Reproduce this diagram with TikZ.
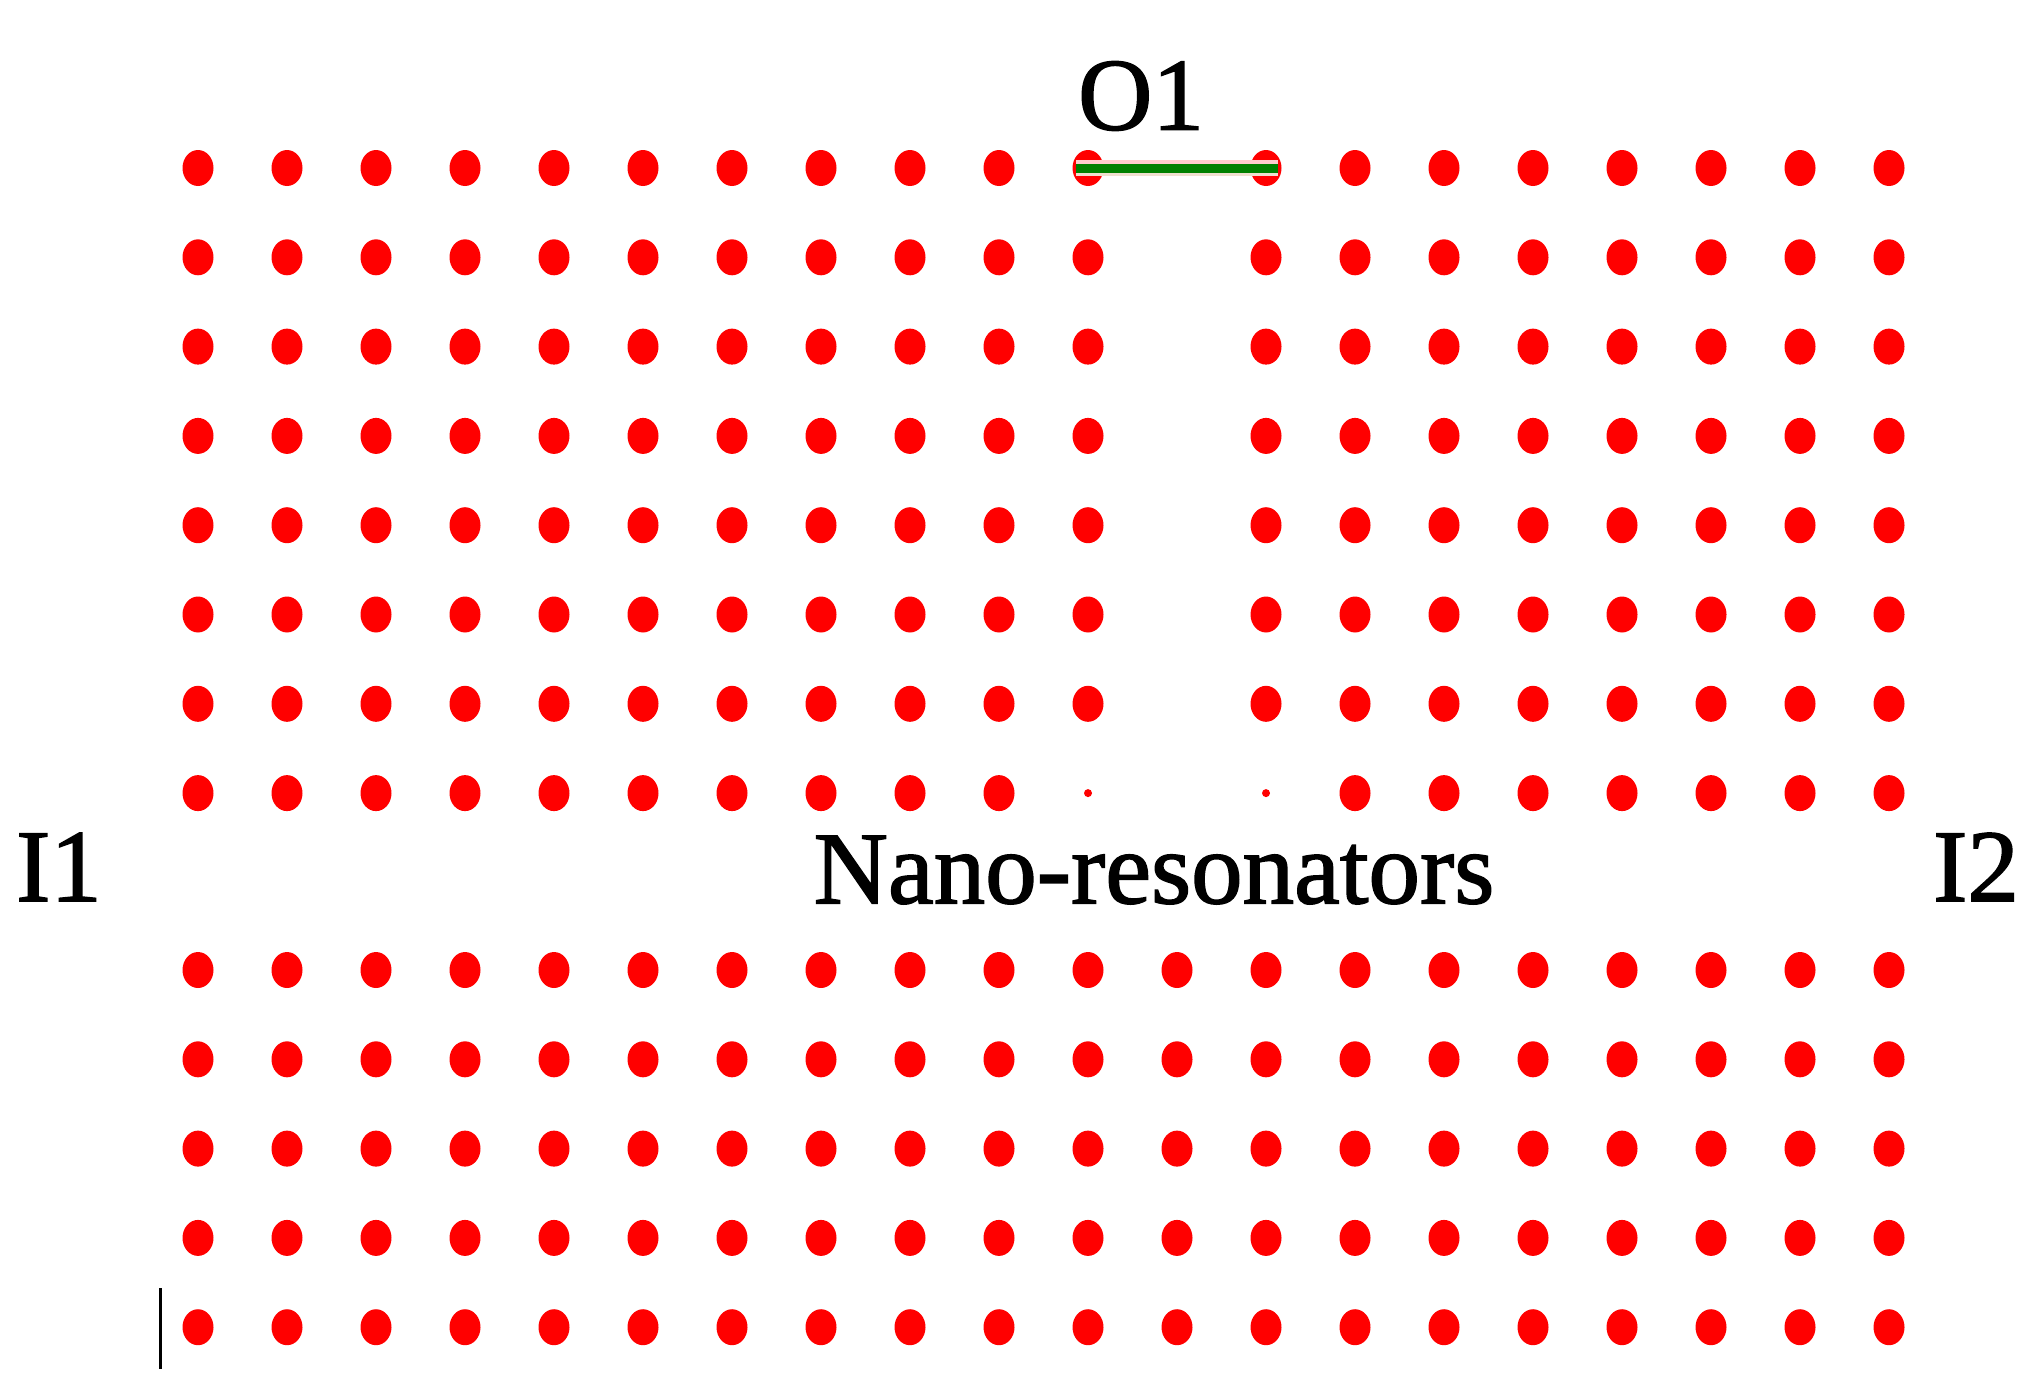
\documentclass[tikz,border=0pt]{standalone}
\usepackage{fontspec}
\setmainfont{Liberation Serif}[FakeBold=1.5]
\begin{document}
\begin{tikzpicture}[x=1pt,y=-1pt,
  dot/.style={fill=red},
  lbl/.style={font=\fontsize{103}{105}\selectfont, inner sep=0pt}]
\useasboundingbox (0,0) rectangle (2034,1393);
% top rows
\foreach \r in {0,...,6}{
  \foreach \c in {0,...,19}{
    \ifnum\c=11\relax\else
      \fill[dot] ({198+\c*89},{168+\r*89.3}) ellipse [x radius=15.5, y radius=18];
    \fi
  }
}
\foreach \c in {0,...,9,13,14,15,16,17,18,19}{
  \fill[dot] ({198+\c*89},{168+7*89.3}) ellipse [x radius=15.5, y radius=18];
}
\fill[dot] ({198+10*89},{168+7*89.3}) circle (4);
\fill[dot] ({198+12*89},{168+7*89.3}) circle (4);
% bottom rows
\foreach \r in {0,...,4}{
  \foreach \c in {0,...,19}{
    \fill[dot] ({198+\c*89},{970+\r*89.3}) ellipse [x radius=15.5, y radius=18];
  }
}
\coordinate (ga) at ({198+10*89-12},168);
\coordinate (gb) at ({198+12*89+12},168);
\draw[line width=6pt, brown!25] ([yshift=-5]ga) -- ([yshift=-5]gb);
\draw[line width=6pt, red!20] ([yshift=5]ga) -- ([yshift=5]gb);
\draw[line width=9pt, green!50!black] (ga) -- (gb);
\node[lbl] (o1) at (1141,96) {O1};
\node[lbl] (nr) at (1154,870) {Nano-resonators};
\node[lbl] (i1) at (59,867) {I1};
\node[lbl] (i2) at (1976,867) {I2};
\coordinate (la) at (160,1288);
\coordinate (lb) at (160,1369);
\draw[line width=3pt] (la) -- (lb);
\end{tikzpicture}
\end{document}
